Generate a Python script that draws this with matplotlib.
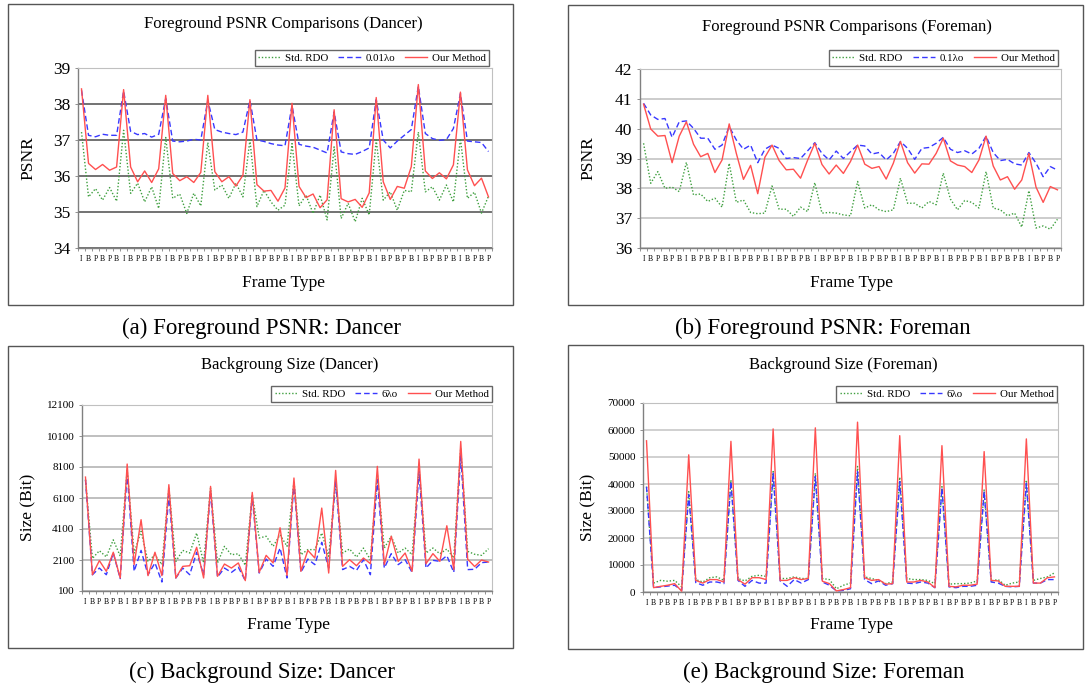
import numpy as np
import matplotlib.pyplot as plt
from matplotlib.patches import Rectangle

plt.rcParams["font.family"] = ["Liberation Serif", "DejaVu Serif"]

W, H = 1085, 685

frame_types = list("IBPBPBIBPBPBIBPBPBIBPBPBIBPBPBIBPBPBIBPBPBIBPBPBIBPBPBIBPBP")

# --- (a) Foreground PSNR, Dancer ---
dancer_psnr_std = [37.22, 35.42, 35.65, 35.33, 35.68, 35.30, 37.27, 35.52, 35.80, 35.28,
                   35.70, 35.10, 37.07, 35.38, 35.50, 34.96, 35.52, 35.17, 36.93, 35.61,
                   35.75, 35.38, 35.80, 35.42, 37.00, 35.15, 35.60, 35.28, 35.05, 35.19,
                   36.90, 35.17, 35.47, 34.96, 35.47, 34.78, 36.81, 34.82, 35.24, 34.73,
                   35.38, 34.92, 37.00, 35.33, 35.56, 35.05, 35.60, 35.56, 37.22, 35.56,
                   35.70, 35.33, 35.75, 35.28, 37.04, 35.38, 35.55, 34.97, 35.44]
dancer_psnr_lam = [38.38, 37.13, 37.09, 37.16, 37.13, 37.13, 38.36, 37.24, 37.15, 37.18,
                   37.08, 37.16, 38.15, 36.97, 36.95, 36.97, 37.02, 37.00, 38.10, 37.29,
                   37.22, 37.18, 37.15, 37.22, 38.10, 37.00, 36.96, 36.90, 36.86, 36.84,
                   37.96, 36.88, 36.83, 36.80, 36.72, 36.64, 37.78, 36.67, 36.62, 36.60,
                   36.68, 36.78, 38.12, 37.00, 36.78, 36.97, 37.13, 37.29, 38.49, 37.18,
                   37.04, 36.99, 37.01, 37.32, 38.29, 36.97, 36.95, 36.93, 36.68]
dancer_psnr_ours = [38.42, 36.35, 36.18, 36.32, 36.16, 36.25, 38.40, 36.25, 35.84, 36.14,
                    35.82, 36.20, 38.24, 36.07, 35.87, 35.98, 35.82, 36.10, 38.24, 36.12,
                    35.84, 35.98, 35.72, 36.02, 38.12, 35.76, 35.58, 35.60, 35.30, 35.67,
                    38.02, 35.71, 35.40, 35.50, 35.12, 35.34, 37.84, 35.37, 35.28, 35.35,
                    35.13, 35.53, 38.18, 35.84, 35.35, 35.71, 35.66, 36.26, 38.54, 36.14,
                    35.93, 36.09, 35.92, 36.31, 38.33, 36.17, 35.73, 35.94, 35.42]

# --- (b) Foreground PSNR, Foreman ---
foreman_psnr_std = [39.51, 38.17, 38.56, 38.00, 38.04, 37.89, 38.87, 37.78, 37.81, 37.56,
                    37.67, 37.37, 38.84, 37.53, 37.61, 37.19, 37.15, 37.17, 38.08, 37.30,
                    37.30, 37.06, 37.37, 37.22, 38.19, 37.17, 37.19, 37.17, 37.11, 37.08,
                    38.23, 37.34, 37.45, 37.28, 37.22, 37.28, 38.34, 37.50, 37.50, 37.34,
                    37.56, 37.45, 38.51, 37.64, 37.28, 37.59, 37.53, 37.34, 38.56, 37.34,
                    37.28, 37.08, 37.17, 36.70, 37.92, 36.67, 36.74, 36.63, 36.96]
foreman_psnr_lam = [40.85, 40.46, 40.31, 40.34, 39.71, 40.23, 40.26, 40.01, 39.68, 39.68,
                    39.31, 39.45, 40.07, 39.62, 39.31, 39.45, 38.86, 39.31, 39.45, 39.34,
                    39.00, 39.03, 39.00, 39.26, 39.53, 39.17, 38.95, 39.25, 39.00, 39.23,
                    39.45, 39.42, 39.15, 39.20, 38.95, 39.17, 39.57, 39.34, 38.97, 39.34,
                    39.37, 39.51, 39.71, 39.31, 39.20, 39.26, 39.15, 39.34, 39.75, 39.20,
                    38.93, 38.97, 38.82, 38.78, 39.20, 38.84, 38.39, 38.73, 38.61]
foreman_psnr_ours = [40.82, 39.99, 39.75, 39.77, 38.86, 39.75, 40.23, 39.48, 39.06, 39.17,
                     38.53, 38.95, 40.16, 39.17, 38.30, 38.77, 37.82, 39.04, 39.45, 38.93,
                     38.62, 38.64, 38.34, 38.95, 39.51, 38.80, 38.48, 38.78, 38.50, 38.90,
                     39.45, 38.81, 38.67, 38.73, 38.31, 38.84, 39.57, 38.86, 38.51, 38.82,
                     38.81, 39.17, 39.68, 38.92, 38.78, 38.73, 38.53, 38.95, 39.75, 38.75,
                     38.28, 38.39, 37.97, 38.28, 39.17, 38.04, 37.53, 38.06, 37.95]

# --- (c) Background size, Dancer ---
dancer_size_std = [7280, 2200, 2700, 2300, 3400, 2350, 7900, 2550, 3950, 2010,
                   2440, 1800, 6740, 2010, 2720, 2550, 3840, 1910, 6740, 1910,
                   2980, 2440, 2500, 1760, 6310, 3520, 3630, 2980, 3730, 2980,
                   7170, 2440, 2770, 2770, 3840, 2340, 7170, 2550, 2810, 2290,
                   2870, 2120, 7600, 2870, 3630, 2550, 2870, 2440, 8040, 2550,
                   2870, 2500, 2810, 2230, 9320, 2660, 2470, 2400, 2830]
dancer_size_lam = [7280, 1150, 1580, 1150, 2550, 900, 7710, 1370, 2720, 1150,
                   1910, 680, 6310, 940, 1580, 1150, 2600, 1150, 6530, 1000,
                   1580, 1300, 1630, 770, 6200, 1260, 2160, 1690, 2870, 940,
                   7060, 1300, 2160, 1800, 3240, 1580, 7280, 1480, 1690, 1430,
                   2120, 1150, 7280, 1580, 2510, 1800, 2120, 1300, 7820, 1580,
                   2080, 2010, 2380, 1300, 8890, 1480, 1500, 1930, 1970]
dancer_size_ours = [7450, 1150, 2060, 1370, 2600, 940, 8290, 1800, 4700, 1090,
                    2600, 1090, 6960, 940, 1690, 1730, 2920, 940, 6850, 1050,
                    1840, 1580, 1910, 770, 6460, 1300, 2400, 1910, 4180, 1100,
                    7390, 1370, 2720, 2230, 5450, 1260, 7880, 1690, 2120, 1730,
                    2230, 1860, 8140, 1800, 3630, 2010, 2550, 1370, 8610, 1860,
                    2510, 2010, 4310, 1480, 9750, 2150, 1680, 2100, 1970]

# --- (e) Background size, Foreman ---
foreman_size_std = [39000, 3300, 4300, 4000, 4300, 1900, 37200, 4600, 3700, 5300,
                    5600, 4300, 41500, 5000, 4100, 5800, 6200, 5800, 44600, 5000,
                    5000, 5600, 5000, 5000, 44000, 5000, 4600, 1200, 2500, 3300,
                    46500, 5600, 5000, 4300, 3100, 3700, 42500, 5000, 4600, 4600,
                    4300, 3100, 39000, 2900, 3100, 3100, 3300, 4100, 37800, 4100,
                    4600, 2500, 3300, 3700, 41500, 4300, 5000, 5600, 7100]
foreman_size_lam = [39000, 1600, 1900, 2200, 2500, 600, 36000, 3500, 2500, 3700,
                    3700, 3100, 40900, 4300, 2100, 4300, 3300, 3300, 44000, 4100,
                    2100, 4600, 3300, 4600, 42800, 3700, 2500, 400, 600, 1200,
                    44600, 4600, 3100, 4100, 2500, 3100, 40900, 3300, 3100, 3700,
                    3300, 1600, 38400, 1900, 1600, 2100, 2100, 2500, 37200, 3700,
                    3300, 2100, 1900, 2100, 40300, 3300, 3300, 4600, 4600]
foreman_size_ours = [56000, 1600, 2100, 2500, 3100, 300, 50800, 4300, 3300, 4600,
                     4600, 3700, 55800, 4600, 2900, 5300, 5300, 4600, 60400, 4300,
                     4300, 5300, 4600, 5000, 60800, 4000, 3100, 400, 900, 1600,
                     62900, 5300, 4300, 4600, 2900, 3100, 57900, 3700, 3700, 4300,
                     3700, 1600, 54200, 2100, 1900, 2500, 2500, 2900, 52000, 4300,
                     4100, 2100, 2100, 2100, 56700, 3300, 3300, 5300, 5600]

fig = plt.figure(figsize=(W / 100, H / 100), dpi=100)


def fx(x):
    return x / W


def fy(y):
    return 1 - y / H


def draw_panel(plot_px, border_px, title, title_px, caption, caption_px,
               ylabel, ylabel_px, xlabel_px, std, lam, ours, lam_label,
               yticks, ytick_fs, grid_color, legend_px):
    x0, y0, x1, y1 = plot_px
    ax = fig.add_axes([fx(x0), fy(y1), (x1 - x0) / W, (y1 - y0) / H])
    x = np.arange(len(frame_types))

    ax.plot(x, std, color="#3f9f3f", lw=1.0, ls=(0, (1, 1.4)), label="Std. RDO", zorder=2)
    ax.plot(x, lam, color="#3838ff", lw=1.0, ls=(0, (4, 2.2)), label=lam_label, zorder=3)
    ax.plot(x, ours, color="#ff5050", lw=1.0, label="Our Method", zorder=4)

    ax.set_xlim(-0.5, len(frame_types) - 0.5)
    ax.set_ylim(yticks[0], yticks[-1])
    ax.set_yticks(yticks)
    ax.tick_params(axis="y", labelsize=ytick_fs, length=2.5, width=0.6,
                   color="#808080", pad=3)
    ax.set_xticks(x)
    ax.set_xticklabels(frame_types, fontsize=5.5)
    ax.set_xticks(np.arange(-0.5, len(frame_types)), minor=True)
    ax.tick_params(axis="x", which="major", length=0, pad=5)
    ax.tick_params(axis="x", which="minor", length=2, width=0.6, color="#808080")

    ax.yaxis.grid(True, color=grid_color, lw=1.2)
    ax.set_axisbelow(True)
    for side in ["top", "right"]:
        ax.spines[side].set_color("#c0c0c0")
    for side in ["left", "bottom"]:
        ax.spines[side].set_color("#808080")
        ax.spines[side].set_linewidth(1.0)

    lx, ly = legend_px
    leg = ax.legend(loc="upper right", bbox_to_anchor=(fx(lx), fy(ly)),
                    bbox_transform=fig.transFigure, ncol=3, fontsize=7.8,
                    frameon=True, fancybox=False, edgecolor="#666666",
                    framealpha=1, borderaxespad=0, borderpad=0.3,
                    handlelength=2.1, handletextpad=0.4, columnspacing=0.9)
    leg.get_frame().set_linewidth(1.0)

    bx0, by0, bx1, by1 = border_px
    fig.add_artist(Rectangle((fx(bx0), fy(by1)), (bx1 - bx0) / W, (by1 - by0) / H,
                             transform=fig.transFigure, fill=False,
                             edgecolor="#555555", lw=1.0))

    fig.text(fx(title_px[0]), fy(title_px[1]), title, fontsize=12,
             ha="center", va="center")
    fig.text(fx(ylabel_px[0]), fy(ylabel_px[1]), ylabel, fontsize=12.5,
             rotation=90, ha="center", va="center")
    fig.text(fx(xlabel_px[0]), fy(xlabel_px[1]), "Frame Type", fontsize=12.5,
             ha="center", va="center")
    fig.text(fx(caption_px[0]), fy(caption_px[1]), caption, fontsize=16.5,
             ha="center", va="center")
    return ax


draw_panel((78, 68, 492, 248), (8, 4, 513, 305),
           "Foreground PSNR Comparisons (Dancer)", (283, 24),
           "(a) Foreground PSNR: Dancer", (262, 328),
           "PSNR", (28, 158), (283, 283),
           dancer_psnr_std, dancer_psnr_lam, dancer_psnr_ours, "0.01λo",
           [34, 35, 36, 37, 38, 39], 12.5, "#5a5a5a", (489, 50))

draw_panel((640, 69, 1061, 248), (568, 5, 1083, 305),
           "Foreground PSNR Comparisons (Foreman)", (847, 27),
           "(b) Foreground PSNR: Foreman", (823, 328),
           "PSNR", (588, 158), (851, 283),
           foreman_psnr_std, foreman_psnr_lam, foreman_psnr_ours, "0.1λo",
           [36, 37, 38, 39, 40, 41, 42], 12.5, "#c4c4c4", (1058, 50))

draw_panel((82, 405, 492, 591), (8, 346, 513, 648),
           "Backgroung Size (Dancer)", (290, 365),
           "(c) Background Size: Dancer", (262, 672),
           "Size (Bit)", (28, 507), (288, 625),
           dancer_size_std, dancer_size_lam, dancer_size_ours, "6λo",
           [100, 2100, 4100, 6100, 8100, 10100, 12100], 8, "#b4b4b4", (492, 386))

draw_panel((643, 403, 1058, 592), (568, 345, 1083, 649),
           "Background Size (Foreman)", (843, 365),
           "(e) Background Size: Foreman", (824, 672),
           "Size (Bit)", (588, 507), (851, 625),
           foreman_size_std, foreman_size_lam, foreman_size_ours, "6λo",
           [0, 10000, 20000, 30000, 40000, 50000, 60000, 70000], 8, "#c8c8c8", (1057, 386))

plt.savefig("out.png", dpi=100)
